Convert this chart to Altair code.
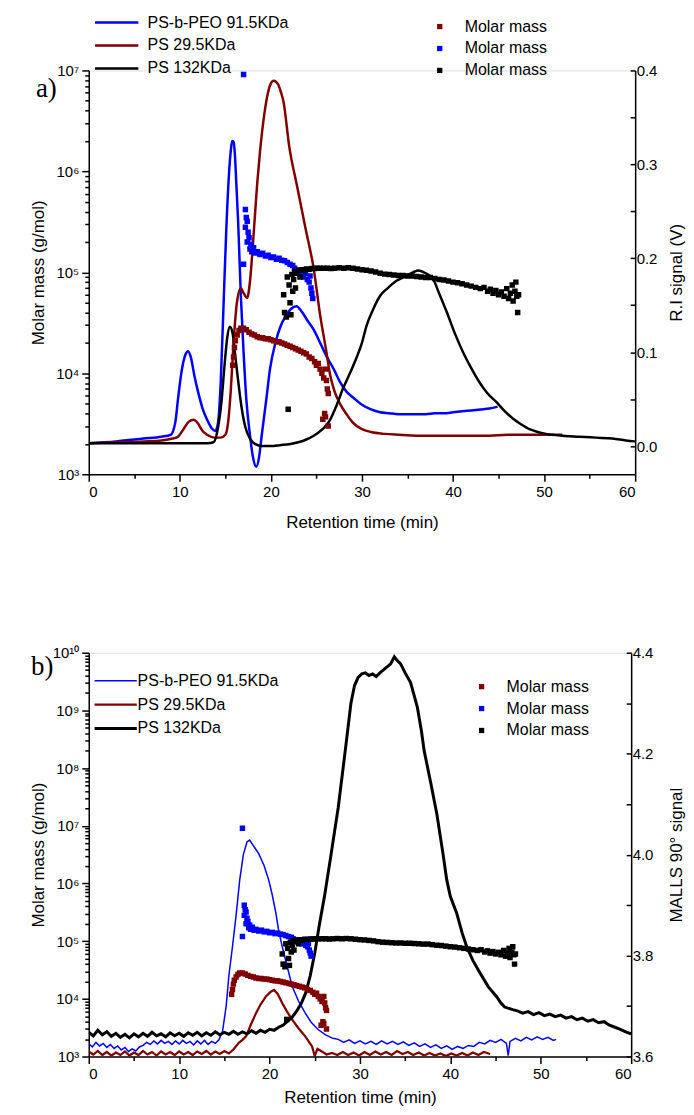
import altair as alt
import pandas as pd

NAMES = ["PS-b-PEO 91.5KDa", "PS 29.5KDa", "PS 132KDa"]
LINE_COLORS = ["#0000ff", "#800000", "#000000"]
MM_KEYS = ["mm_red", "mm_blue", "mm_black"]
MM_COLORS = ["#800000", "#0000ff", "#000000"]
X_TICKS = [0, 5, 10, 15, 20, 25, 30, 35, 40, 45, 50, 55, 60]
RI_TICKS = [0.0, 0.05, 0.1, 0.15, 0.2, 0.25, 0.3, 0.35, 0.4]
MALLS_TICKS = [3.6, 3.7, 3.8, 3.9, 4.0, 4.1, 4.2, 4.3, 4.4]
MINOR = [1, 2, 3, 4, 5, 6, 7, 8, 9]

# ---------------- panel a : RI signal (V) ----------------
ri_blue_t = [0, 3, 6, 8, 9, 9.5, 9.8, 10.2, 10.6, 10.9, 11.2, 11.6, 12.0, 12.5, 13.0, 13.5, 13.9, 14.2, 14.5, 14.8,
             15.1, 15.4, 15.6, 15.75, 15.9, 16.05, 16.2, 16.4, 16.7, 17.0, 17.3, 17.7, 18.0, 18.4, 18.7, 19.0, 19.5,
             19.9, 20.5, 21.0, 21.6, 22.2, 22.8, 23.4, 24.0, 24.7, 25.5, 26.2, 26.9, 27.6, 28.3, 29.0, 30.0, 31.0,
             32.0, 33.0, 34.0, 35.0, 36.0, 37.0, 38.0, 39.0, 40.0, 41.0, 42.0, 43.0, 44.0, 44.9]
ri_blue_v = [0.003, 0.005, 0.008, 0.010, 0.012, 0.025, 0.05, 0.08, 0.097, 0.101, 0.095, 0.075, 0.058, 0.040, 0.028,
             0.019, 0.016, 0.025, 0.07, 0.15, 0.23, 0.29, 0.315, 0.325, 0.324, 0.31, 0.28, 0.24, 0.16, 0.10, 0.05,
             0.012, -0.01, -0.022, -0.012, 0.012, 0.05, 0.082, 0.11, 0.126, 0.138, 0.146, 0.149, 0.143, 0.134, 0.124,
             0.108, 0.094, 0.082, 0.068, 0.058, 0.052, 0.044, 0.039, 0.036, 0.035, 0.034, 0.034, 0.034, 0.034, 0.035,
             0.035, 0.036, 0.037, 0.038, 0.039, 0.040, 0.042]

ri_red_t = [0, 3, 6, 8, 9.2, 9.8, 10.4, 11.0, 11.5, 12.0, 12.5, 13.0, 13.8, 14.5, 15.0, 15.3, 15.6, 15.9, 16.3, 16.7,
            17.0, 17.4, 17.7, 18.1, 18.5, 18.8, 19.3, 19.8, 20.05, 20.3, 20.55, 20.8, 21.1, 21.4, 22.0, 22.85, 23.8,
            24.7, 25.4, 26.1, 26.5, 27.0, 27.6, 28.3, 29.0, 30.0, 31.0, 32.5, 34.0, 36.0, 38.0, 40.0, 42.0, 44.0,
            46.0, 48.0, 50.0, 52.0]
ri_red_v = [0.003, 0.004, 0.005, 0.006, 0.008, 0.010, 0.018, 0.026, 0.028, 0.024, 0.016, 0.012, 0.009, 0.009, 0.012,
            0.025, 0.06, 0.11, 0.155, 0.168, 0.163, 0.158, 0.175, 0.225, 0.28, 0.313, 0.355, 0.381, 0.387, 0.389,
            0.388, 0.385, 0.377, 0.366, 0.32, 0.278, 0.232, 0.189, 0.14, 0.10, 0.076, 0.058, 0.045, 0.034, 0.025,
            0.018, 0.015, 0.013, 0.012, 0.011, 0.011, 0.011, 0.011, 0.011, 0.012, 0.012, 0.012, 0.012]

ri_black_t = [0, 5, 10, 13.0, 13.7, 14.2, 14.6, 14.9, 15.2, 15.5, 15.8, 16.1, 16.4, 16.8, 17.2, 17.7, 18.3, 19.0,
              20.0, 21.0, 22.0, 23.0, 23.9, 24.7, 25.3, 25.8, 26.5, 27.2, 27.95, 28.7, 29.4, 30.0, 30.5, 31.2, 32.0,
              32.8, 33.8, 34.8, 35.6, 36.2, 37.0, 37.8, 38.5, 39.3, 40.2, 41.1, 42.0, 42.9, 43.8, 44.75, 45.7, 46.6,
              47.5, 48.4, 49.3, 50.2, 52.0, 53.9, 55.7, 57.5, 59.0, 60.0]
ri_black_v = [0.003, 0.003, 0.003, 0.003, 0.004, 0.02, 0.05, 0.085, 0.115, 0.127, 0.12, 0.095, 0.07, 0.04, 0.02,
              0.008, 0.002, 0.0, 0.0, 0.001, 0.002, 0.004, 0.007, 0.011, 0.015, 0.019, 0.028, 0.043, 0.062, 0.078,
              0.094, 0.11, 0.128, 0.145, 0.160, 0.168, 0.176, 0.181, 0.185, 0.187, 0.184, 0.178, 0.162, 0.143, 0.12,
              0.100, 0.083, 0.068, 0.056, 0.047, 0.037, 0.029, 0.023, 0.018, 0.015, 0.013, 0.011, 0.010, 0.009,
              0.008, 0.006, 0.005]

# ---------------- molar mass (g/mol) ----------------
mm_red_t = [15.8, 15.9, 16.0, 16.1, 16.3, 16.5, 16.7, 17.0, 17.3, 17.6, 17.9, 18.2, 18.5, 18.8, 19.1, 19.4, 19.7,
            20.0, 20.3, 20.6, 20.9, 21.2, 21.5, 21.8, 22.1, 22.4, 22.7, 23.0, 23.3, 23.6, 23.9, 24.2, 24.5, 24.8,
            25.0, 25.2, 25.4, 25.6, 25.8, 26.0, 26.1, 26.2, 26.3, 25.9, 26.0, 26.3, 25.7]
mm_red_m = [1.2e4, 1.45e4, 1.8e4, 2.1e4, 2.4e4, 2.65e4, 2.8e4, 2.8e4, 2.7e4, 2.55e4, 2.45e4, 2.4e4, 2.3e4, 2.25e4,
            2.25e4, 2.2e4, 2.2e4, 2.15e4, 2.1e4, 2.05e4, 2.05e4, 2.0e4, 1.95e4, 1.9e4, 1.85e4, 1.8e4, 1.75e4, 1.7e4,
            1.65e4, 1.6e4, 1.55e4, 1.45e4, 1.4e4, 1.3e4, 1.2e4, 1.25e4, 1.1e4, 1.0e4, 9.0e3, 1.1e4, 8.5e3, 7.0e3,
            6.3e3, 4.0e3, 3.7e3, 3.0e3, 3.5e3]

mm_blue_t = [17.0, 17.2, 17.3, 17.2, 17.4, 17.5, 17.4, 17.6, 17.0, 17.7, 17.8, 17.9, 18.1, 18.3, 18.5, 18.8, 19.1,
             19.4, 19.7, 20.0, 20.3, 20.6, 20.9, 21.2, 21.5, 21.8, 22.1, 22.4, 22.6, 22.8, 23.0, 23.2, 23.4, 23.6,
             23.8, 24.0, 24.2, 24.4, 24.5, 24.6, 24.3]
mm_blue_m = [9.1e6, 4.2e5, 3.5e5, 2.8e5, 3.2e5, 2.5e5, 2.0e5, 2.2e5, 1.2e5, 1.7e5, 1.9e5, 1.6e5, 1.75e5, 1.55e5,
             1.6e5, 1.5e5, 1.55e5, 1.45e5, 1.48e5, 1.4e5, 1.42e5, 1.35e5, 1.38e5, 1.32e5, 1.3e5, 1.25e5, 1.2e5,
             1.17e5, 1.1e5, 1.05e5, 1.0e5, 9.5e4, 1.05e5, 9.0e4, 9.8e4, 8.5e4, 8.0e4, 7.0e4, 6.2e4, 5.5e4, 9.2e4]

mm_black_t = [21.4, 21.5, 21.7, 21.9, 21.8, 22.0, 22.1, 22.2, 22.3, 22.4, 22.5, 22.6, 22.7, 22.8, 23.0, 23.2, 23.4,
              23.6, 23.9, 24.2, 24.5, 24.8, 25.1, 25.4, 25.8, 26.2, 26.6, 27.0, 27.5, 28.0, 28.5, 29.0, 29.5, 30.0,
              30.5, 31.0, 31.5, 32.0, 32.5, 33.0, 33.5, 34.0, 34.5, 35.0, 35.5, 36.0, 36.5, 37.0, 37.5, 38.0, 38.5,
              39.0, 39.5, 40.0, 40.5, 41.0, 41.5, 42.0, 42.5, 43.0, 43.4, 43.8, 44.1, 44.4, 44.7, 45.0, 45.3, 45.6,
              45.9, 46.1, 46.3, 46.5, 46.6, 46.8, 46.9, 47.0, 47.1, 47.2]
mm_black_m = [6.0e4, 4.0e4, 3.6e4, 4.4e3, 9.0e4, 7.5e4, 5.0e4, 3.8e4, 9.5e4, 6.5e4, 8.5e4, 1.02e5, 7.0e4, 9.8e4,
              1.05e5, 9.0e4, 1.06e5, 1.04e5, 1.08e5, 1.07e5, 1.09e5, 1.09e5, 1.10e5, 1.10e5, 1.10e5, 1.10e5, 1.09e5,
              1.10e5, 1.11e5, 1.10e5, 1.11e5, 1.10e5, 1.08e5, 1.06e5, 1.05e5, 1.03e5, 1.01e5, 9.8e4, 9.6e4, 9.5e4,
              9.4e4, 9.3e4, 9.3e4, 9.2e4, 9.2e4, 9.1e4, 9.0e4, 8.9e4, 8.9e4, 8.7e4, 8.5e4, 8.4e4, 8.2e4, 8.0e4,
              7.9e4, 7.7e4, 7.5e4, 7.3e4, 7.1e4, 6.9e4, 7.1e4, 6.5e4, 6.8e4, 6.2e4, 6.6e4, 6.0e4, 6.4e4, 5.8e4,
              6.9e4, 5.5e4, 6.2e4, 7.5e4, 5.2e4, 6.5e4, 8.0e4, 5.8e4, 4.0e4, 6.0e4]

# ---------------- panel b : MALLS 90 deg signal ----------------
ml_blue_t = [0, 0.4, 0.8, 1.2, 1.6, 2.0, 2.4, 2.8, 3.2, 3.6, 4.0, 4.4, 4.8, 5.2, 5.6, 6.0, 6.4, 6.8, 7.2, 7.6, 8.0,
             8.4, 8.8, 9.2, 9.6, 10.0, 10.4, 10.8, 11.2, 11.6, 12.0, 12.4, 12.8, 13.2, 13.6, 14.0, 14.4, 14.8, 15.2,
             15.5, 15.9, 16.3, 16.7, 17.1, 17.5, 17.8, 18.2, 18.8, 19.4, 19.9, 20.3, 20.7, 21.0, 21.4, 22.0, 22.5,
             23.2, 23.95, 24.6, 25.4, 26.2, 27.0, 27.6, 28.2, 28.8, 29.4, 30.0, 30.6, 31.2, 31.8, 32.4, 33.0, 33.6,
             34.2, 34.8, 35.4, 36.0, 36.6, 37.2, 37.8, 38.4, 39.0, 39.6, 40.2, 40.8, 41.4, 42.0, 42.6, 43.2, 43.8,
             44.4, 45.0, 45.6, 46.2, 46.4, 46.6, 47.2, 47.8, 48.4, 49.0, 49.6, 50.2, 50.8, 51.4, 51.7]
ml_blue_v = [3.625, 3.619, 3.628, 3.621, 3.626, 3.618, 3.624, 3.616, 3.621, 3.613, 3.618, 3.610, 3.615, 3.611, 3.619,
             3.622, 3.628, 3.624, 3.631, 3.625, 3.632, 3.626, 3.630, 3.624, 3.631, 3.625, 3.632, 3.626, 3.630, 3.623,
             3.631, 3.625, 3.632, 3.624, 3.630, 3.626, 3.633, 3.65, 3.70, 3.76, 3.818, 3.88, 3.95, 4.00, 4.025,
             4.029, 4.018, 4.002, 3.978, 3.95, 3.92, 3.884, 3.85, 3.818, 3.775, 3.739, 3.71, 3.686, 3.668, 3.653,
             3.643, 3.636, 3.634, 3.628, 3.633, 3.626, 3.631, 3.625, 3.630, 3.624, 3.631, 3.625, 3.630, 3.624, 3.629,
             3.622, 3.627, 3.620, 3.625, 3.618, 3.623, 3.616, 3.621, 3.614, 3.620, 3.616, 3.622, 3.620, 3.628, 3.625,
             3.632, 3.628, 3.634, 3.626, 3.602, 3.630, 3.636, 3.631, 3.638, 3.633, 3.639, 3.634, 3.638, 3.632, 3.634]

ml_red_t = [0, 0.5, 1.0, 1.5, 2.0, 2.5, 3.0, 3.5, 4.0, 4.5, 5.0, 5.5, 6.0, 6.5, 7.0, 7.5, 8.0, 8.5, 9.0, 9.5, 10.0,
            10.5, 11.0, 11.5, 12.0, 12.5, 13.0, 13.5, 14.0, 14.5, 15.0, 15.5, 16.0, 16.6, 17.0, 17.4, 17.9, 18.5,
            19.0, 19.6, 20.1, 20.5, 20.9, 21.4, 21.9, 22.5, 23.2, 23.95, 24.4, 24.7, 25.0, 25.3, 25.8, 26.3, 26.9,
            27.5, 28.1, 28.7, 29.3, 29.9, 30.5, 31.1, 31.7, 32.3, 32.9, 33.5, 34.1, 34.7, 35.3, 35.9, 36.5, 37.1,
            37.7, 38.3, 38.9, 39.5, 40.1, 40.7, 41.3, 41.9, 42.5, 43.1, 43.7, 44.4]
ml_red_v = [3.610, 3.604, 3.611, 3.603, 3.609, 3.602, 3.608, 3.603, 3.610, 3.602, 3.608, 3.603, 3.611, 3.604, 3.609,
            3.602, 3.610, 3.604, 3.609, 3.603, 3.610, 3.604, 3.609, 3.603, 3.610, 3.605, 3.611, 3.604, 3.610, 3.605,
            3.611, 3.606, 3.614, 3.627, 3.633, 3.640, 3.662, 3.686, 3.703, 3.719, 3.728, 3.732, 3.724, 3.706, 3.690,
            3.673, 3.656, 3.640, 3.628, 3.620, 3.601, 3.615, 3.610, 3.604, 3.607, 3.603, 3.609, 3.603, 3.608, 3.602,
            3.609, 3.603, 3.610, 3.604, 3.609, 3.603, 3.611, 3.605, 3.609, 3.603, 3.608, 3.602, 3.607, 3.602, 3.606,
            3.601, 3.606, 3.602, 3.607, 3.602, 3.608, 3.603, 3.609, 3.605]

ml_black_t = [0, 0.5, 1.0, 1.5, 2.0, 2.5, 3.0, 3.5, 4.0, 4.5, 5.0, 5.5, 6.0, 6.5, 7.0, 7.5, 8.0, 8.5, 9.0, 9.5,
              10.0, 10.5, 11.0, 11.5, 12.0, 12.5, 13.0, 13.5, 14.0, 14.5, 15.0, 15.5, 16.0, 16.5, 17.0, 17.5, 18.0,
              18.5, 19.0, 19.5, 20.0, 20.5, 21.0, 21.5, 22.0, 22.5, 23.0, 23.5, 24.0, 24.5, 25.0, 25.5, 26.1, 26.8,
              27.6, 28.4, 29.0, 29.4, 29.8, 30.2, 30.6, 31.0, 31.4, 31.8, 32.2, 32.6, 33.0, 33.4, 33.8, 34.1, 34.5,
              35.0, 35.6, 36.0, 36.35, 36.8, 37.1, 37.8, 38.5, 39.2, 39.6, 40.0, 40.7, 41.3, 41.8, 42.5, 43.3, 44.2,
              45.1, 45.6, 46.0, 46.9, 47.5, 48.0, 48.6, 49.2, 49.8, 50.4, 51.0, 51.6, 52.2, 52.8, 53.4, 54.0, 54.6,
              55.2, 55.8, 56.4, 57.0, 57.6, 58.2, 58.8, 59.4, 60.0]
ml_black_v = [3.648, 3.641, 3.652, 3.643, 3.649, 3.640, 3.646, 3.638, 3.644, 3.637, 3.645, 3.639, 3.646, 3.640,
              3.648, 3.641, 3.645, 3.639, 3.647, 3.641, 3.646, 3.640, 3.647, 3.642, 3.648, 3.641, 3.647, 3.642, 3.649,
              3.643, 3.648, 3.644, 3.650, 3.644, 3.649, 3.645, 3.651, 3.646, 3.652, 3.648, 3.654, 3.652, 3.658, 3.662,
              3.670, 3.678, 3.690, 3.705, 3.726, 3.760, 3.805, 3.86, 3.92, 4.00, 4.094, 4.21, 4.30, 4.335, 4.351,
              4.358, 4.360, 4.355, 4.358, 4.353, 4.360, 4.366, 4.372, 4.378, 4.392, 4.385, 4.378, 4.36, 4.341, 4.315,
              4.292, 4.245, 4.206, 4.145, 4.081, 4.00, 3.95, 3.917, 3.884, 3.845, 3.818, 3.79, 3.765, 3.738, 3.719,
              3.706, 3.698, 3.693, 3.690, 3.686, 3.689, 3.683, 3.687, 3.681, 3.684, 3.679, 3.682, 3.676, 3.679,
              3.673, 3.676, 3.670, 3.673, 3.667, 3.669, 3.662, 3.658, 3.654, 3.649, 3.645]

FONT = "Arial"
W_A, W_B, H = 548, 544, 405
LEFT, TOP, BOTTOM = 80, 60, 50
RIGHT_A, RIGHT_B = 50, 54


def lines_df(ts, vs):
    rows = []
    for name, t, v in zip(NAMES, ts, vs):
        rows.append(pd.DataFrame({"t": t, "v": v, "s": name}))
    return pd.concat(rows, ignore_index=True)


mm_df = pd.concat([
    pd.DataFrame({"t": mm_red_t, "m": mm_red_m, "g": "mm_red"}),
    pd.DataFrame({"t": mm_blue_t, "m": mm_blue_m, "g": "mm_blue"}),
    pd.DataFrame({"t": mm_black_t, "m": mm_black_m, "g": "mm_black"}),
], ignore_index=True)

ri_df = lines_df([ri_blue_t, ri_red_t, ri_black_t], [ri_blue_v, ri_red_v, ri_black_v])
ml_df = lines_df([ml_blue_t, ml_red_t, ml_black_t], [ml_blue_v, ml_red_v, ml_black_v])

IS_POW = "abs(log(datum.value)/LN10 - round(log(datum.value)/LN10)) < 0.000001"
SUP = "['\u2070','\u00b9','\u00b2','\u00b3','\u2074','\u2075','\u2076','\u2077','\u2078','\u2079','\u00b9\u2070']"


def x_enc(width, title_y):
    return alt.X("t:Q", scale=alt.Scale(domain=[0, 60], nice=False, zero=False),
                 axis=alt.Axis(values=X_TICKS, labelExpr="datum.value % 10 == 0 ? datum.label : ''",
                               tickSize={"condition": {"test": "datum.value % 10 == 0", "value": 7}, "value": 4},
                               title="Retention time (min)", grid=False, labelFontSize=15, titleFontSize=17,
                               titleFontWeight="normal", labelPadding=3, titleX=width / 2, titleY=title_y,
                               titleBaseline="middle", tickColor="black", domainColor="black",
                               labelColor="black", titleColor="black", labelFont=FONT, titleFont=FONT,
                               tickWidth=1.5, domainWidth=1.5))


def log_axis(top_exp):
    vals = [m * 10 ** e for e in range(3, top_exp) for m in MINOR] + [10 ** top_exp]
    return alt.Axis(orient="left", values=vals, title="Molar mass (g/mol)", grid=False,
                    labelExpr=IS_POW + " ? '10' + " + SUP + "[round(log(datum.value)/LN10)] : ''",
                    tickSize={"condition": {"test": IS_POW, "value": 7}, "value": 4},
                    labelFontSize=15, titleFontSize=17, titleFontWeight="normal", labelPadding=3,
                    titleX=-50, titleY=H / 2, titleAngle=270, titleBaseline="middle", titleAlign="center",
                    tickColor="black", domainColor="black", labelColor="black", titleColor="black",
                    labelFont=FONT, titleFont=FONT, tickWidth=1.5, domainWidth=1.5)


def right_axis(ticks, step_test, title, tx):
    return alt.Axis(orient="right", values=ticks, title=title, grid=False,
                    labelExpr="(" + step_test + ") ? format(datum.value, '.1f') : ''",
                    tickSize={"expr": "-5"}, labelFontSize=15, titleFontSize=17, titleFontWeight="normal",
                    labelPadding=6, titleX=tx, titleY=H / 2, titleAngle=270, titleBaseline="middle",
                    titleAlign="center", tickColor="black", domainColor="black", labelColor="black",
                    titleColor="black", labelFont=FONT, titleFont=FONT, tickWidth=1.5, domainWidth=1.5)


def mm_layer(width, title_y, top_exp, lx, ly, row_pad):
    return alt.Chart(mm_df).mark_square(size=30, filled=True, clip=True, opacity=1).encode(
        x=x_enc(width, title_y),
        y=alt.Y("m:Q", scale=alt.Scale(type="log", domain=[1e3, 10 ** top_exp], nice=False), axis=log_axis(top_exp)),
        fill=alt.Fill("g:N", scale=alt.Scale(domain=MM_KEYS, range=MM_COLORS),
                      legend=alt.Legend(orient="none", legendX=lx, legendY=ly, title=None, labelExpr="'Molar mass'",
                                        symbolType="square", symbolSize=28, labelFontSize=16, labelFont=FONT,
                                        labelColor="black", labelOffset=17, rowPadding=row_pad, padding=0)),
    )


def panel_label(text, px, py):
    return alt.Chart(pd.DataFrame({"lab": [text]})).mark_text(
        font="Times New Roman", fontSize=27, align="left", baseline="alphabetic", color="black").encode(
        text="lab:N", x=alt.value(px), y=alt.value(py))


def frame_anchor(x0, x1, y):
    # invisible guide that fixes the outer extent of the page around the plot areas
    return alt.Chart(pd.DataFrame({"k": [0]})).mark_rule(strokeWidth=0, strokeOpacity=0).encode(
        x=alt.value(x0), x2=alt.value(x1), y=alt.value(y))


# ---------------- panel a ----------------
ri_lines = alt.Chart(ri_df).mark_line(strokeWidth=2.5, clip=True, interpolate="monotone").encode(
    x=x_enc(W_A, 48),
    y=alt.Y("v:Q", scale=alt.Scale(domain=[-0.03, 0.4], nice=False, zero=False),
            axis=right_axis(RI_TICKS, "abs(datum.value*10 - round(datum.value*10)) < 0.000001", "R.I signal (V)", 41)),
    stroke=alt.Stroke("s:N", scale=alt.Scale(domain=NAMES, range=LINE_COLORS),
                      legend=alt.Legend(orient="none", legendX=20, legendY=-56, title=None, symbolType="M-4,0H4",
                                        symbolSize=118, symbolStrokeWidth=2.5, labelFontSize=16, labelFont=FONT,
                                        labelColor="black", labelOffset=23, rowPadding=7, padding=0)),
    detail="s:N",
)

panel_a = alt.layer(
    ri_lines, mm_layer(W_A, 48, 7, 344, -52, 6), panel_label("a)", -53, 27),
    frame_anchor(-LEFT, W_A + RIGHT_A, -TOP)
).resolve_scale(y="independent").properties(width=W_A, height=H)

# ---------------- panel b ----------------
leg_b = dict(orient="none", legendX=19, legendY=20, title=None, symbolType="M-4,0H4", symbolSize=112,
             labelFontSize=16, labelFont=FONT, labelColor="black", labelOffset=14, rowPadding=8, padding=0)
ml_lines = alt.Chart(ml_df).mark_line(clip=True).encode(
    x=x_enc(W_B, 41),
    y=alt.Y("v:Q", scale=alt.Scale(domain=[3.6, 4.4], nice=False, zero=False),
            axis=right_axis(MALLS_TICKS, "abs(datum.value*5 - round(datum.value*5)) < 0.000001", "MALLS 90\u00b0 signal", 45)),
    stroke=alt.Stroke("s:N", scale=alt.Scale(domain=NAMES, range=LINE_COLORS), legend=alt.Legend(**leg_b)),
    strokeWidth=alt.StrokeWidth("s:N", scale=alt.Scale(domain=NAMES, range=[1.5, 3, 3]), legend=alt.Legend(**leg_b)),
    detail="s:N",
)

panel_b = alt.layer(
    ml_lines, mm_layer(W_B, 41, 10, 386, 26, 6), panel_label("b)", -58, 22),
    frame_anchor(-LEFT, W_B + RIGHT_B, H + BOTTOM)
).resolve_scale(y="independent").properties(width=W_B, height=H)

chart = alt.vconcat(panel_a, panel_b, spacing=179, bounds="flush").resolve_scale(
    x="independent", y="independent", stroke="independent", fill="independent", strokeWidth="independent"
).resolve_legend(stroke="independent", fill="independent", strokeWidth="independent").properties(
    padding=0,
).configure_view(stroke=None).configure(font=FONT)

chart.save("out.html", embed_options={"renderer": "svg", "actions": False})
